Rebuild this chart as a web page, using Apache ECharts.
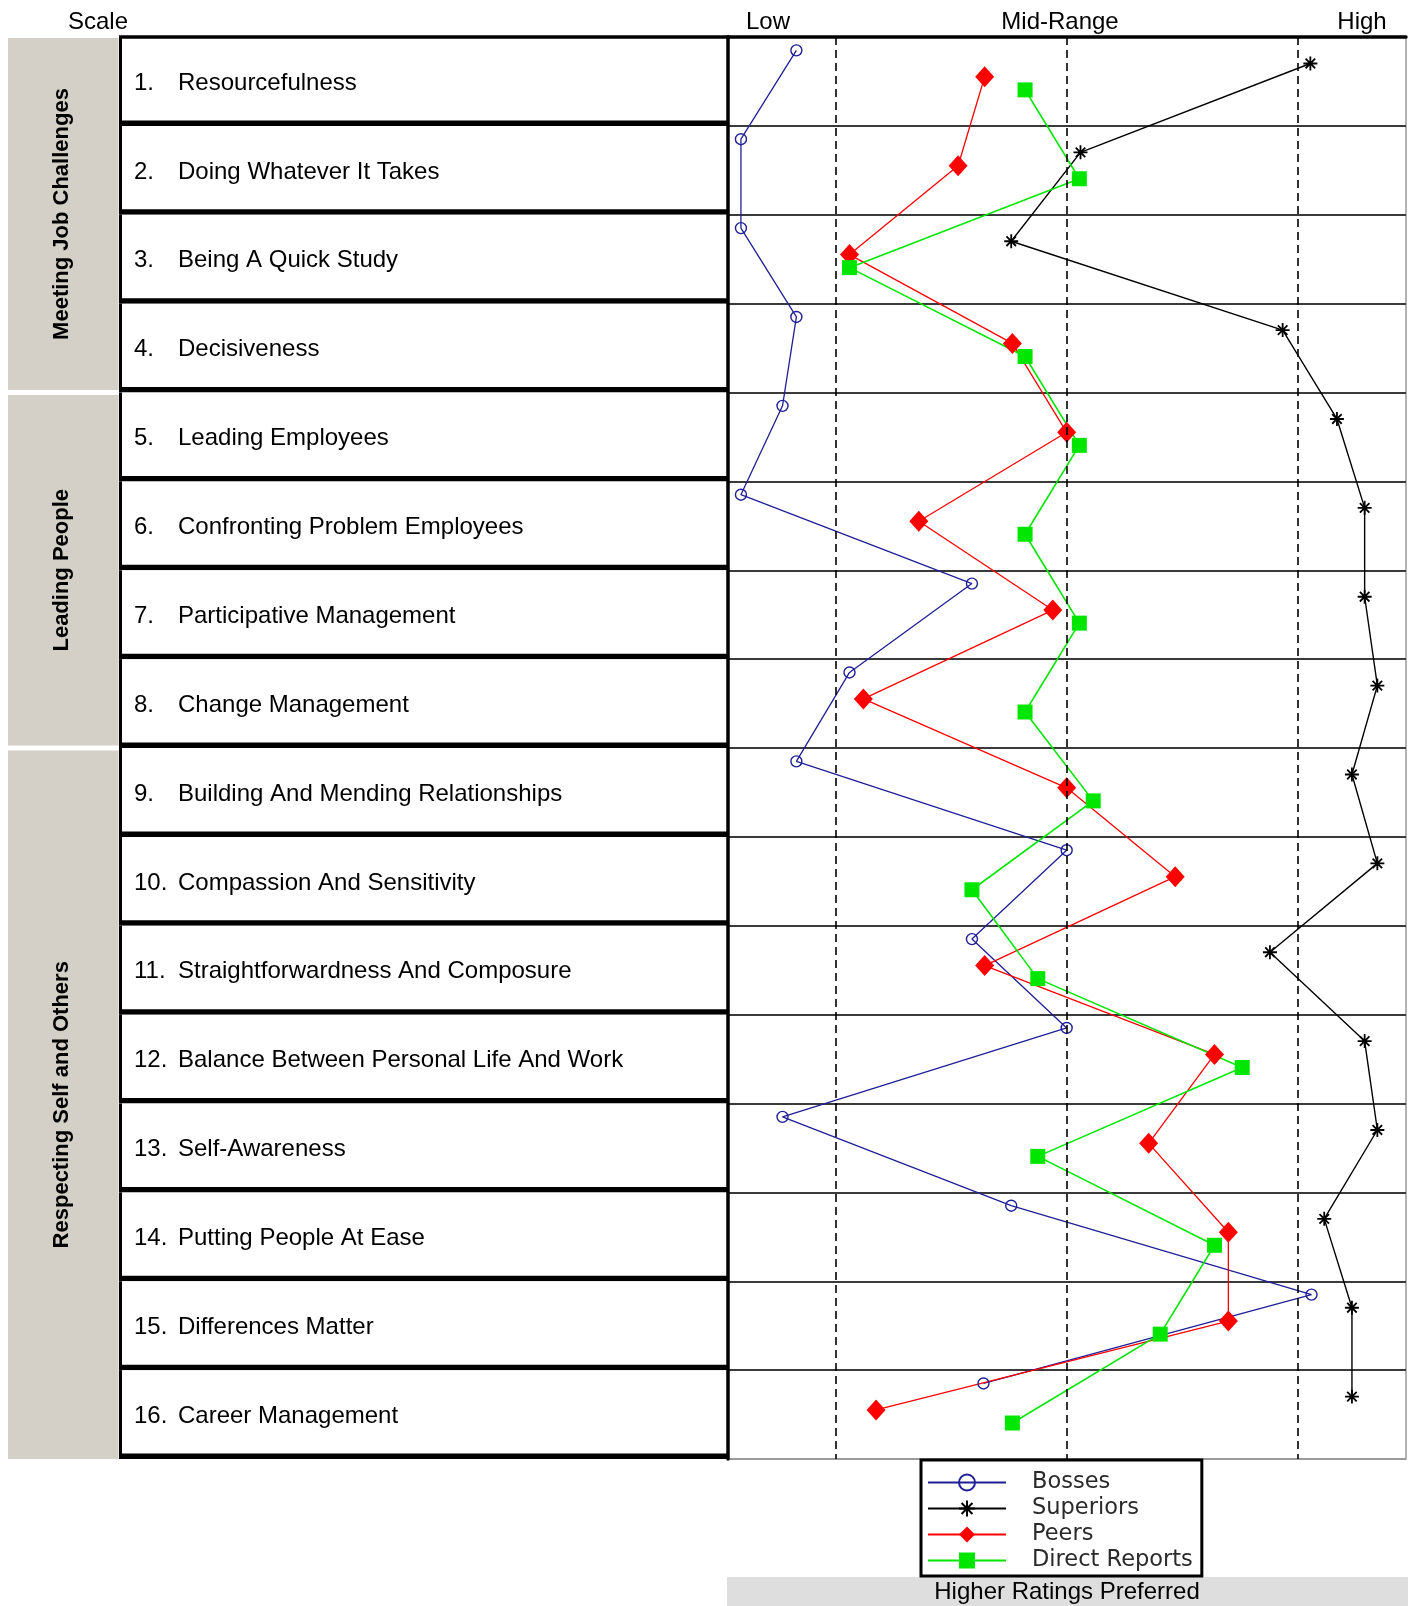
<!DOCTYPE html>
<html>
<head>
<meta charset="utf-8">
<script src="https://cdn.jsdelivr.net/npm/echarts@6/dist/echarts.min.js"></script>
<style>
html,body{margin:0;padding:0;background:#fff;}
#chart{width:1414px;height:1606px;}
</style>
</head>
<body>
<div id="chart"></div>
<script>
// ---- data ----
const categories = ['Resourcefulness', 'Doing Whatever It Takes', 'Being A Quick Study', 'Decisiveness',
  'Leading Employees', 'Confronting Problem Employees', 'Participative Management', 'Change Management',
  'Building And Mending Relationships', 'Compassion And Sensitivity', 'Straightforwardness And Composure',
  'Balance Between Personal Life And Work', 'Self-Awareness', 'Putting People At Ease', 'Differences Matter',
  'Career Management'];
const groupNames = ['Meeting Job Challenges', 'Leading People', 'Respecting Self and Others'];
const groupSizes = [4, 4, 8];
const scaleLabels = ['Low', 'Mid-Range', 'High'];
const referenceLines = [40, 50, 60];
const seriesNames = ['Bosses', 'Superiors', 'Peers', 'Direct Reports'];
const bosses        = [38.3, 35.9, 35.9, 38.3, 37.7, 35.9, 45.9, 40.6, 38.3, 50.0, 45.9, 50.0, 37.7, 47.6, 60.6, 46.4];
const superiors     = [60.55, 50.6, 47.6, 59.35, 61.7, 62.9, 62.9, 63.45, 62.35, 63.45, 58.8, 62.9, 63.45, 61.15, 62.35, 62.35];
const peers         = [46.45, 45.3, 40.6, 47.65, 50.0, 43.6, 49.4, 41.2, 50.0, 54.7, 46.45, 56.4, 53.55, 57.0, 57.0, 41.75];
const directReports = [48.2, 50.55, 40.6, 48.2, 50.55, 48.2, 50.55, 48.2, 51.15, 45.9, 48.75, 57.6, 48.75, 56.4, 54.05, 47.65];

// ---- layout ----
const W = 1414, H = 1606;
const GRID_LEFT = 728, GRID_RIGHT = 1406, GRID_TOP = 37, GRID_BOTTOM = 1459;
const N = categories.length;
const ROW_H = (GRID_BOTTOM - GRID_TOP) / N;
const rowTop = i => GRID_TOP + i * ROW_H;
const FONT = 'Liberation Sans, Arial, sans-serif';
const rowOffsets = [0.15, 0.298, 0.448, 0.595];

const chart = echarts.init(document.getElementById('chart'), null, {renderer: 'canvas', width: W, height: H});

function pts(arr, k) { return arr.map((v, i) => [v, i + rowOffsets[k]]); }

const graphic = [];
// group boxes
let start = 0;
groupNames.forEach((g, gi) => {
  const c = groupSizes[gi];
  const y1 = start === 0 ? GRID_TOP + 1 : rowTop(start) + 2.5;
  const y2 = (start + c === N) ? GRID_BOTTOM : rowTop(start + c) - 2.5;
  graphic.push({type: 'rect', shape: {x: 8, y: y1, width: 110.5, height: y2 - y1}, style: {fill: '#d4d0c8'}, silent: true});
  graphic.push({type: 'text', x: 62, y: (y1 + y2) / 2, rotation: Math.PI / 2,
    style: {text: g, font: 'bold 22px ' + FONT, fill: '#000', align: 'center', verticalAlign: 'middle'}, silent: true});
  start += c;
});
// row label boxes
categories.forEach((name, i) => {
  const t = rowTop(i);
  graphic.push({type: 'rect', shape: {x: 119, y: t, width: 609, height: ROW_H}, style: {fill: '#fff'}, silent: true});
  graphic.push({type: 'rect', shape: {x: 119, y: t, width: 3, height: ROW_H}, style: {fill: '#000'}, silent: true});
  graphic.push({type: 'rect', shape: {x: 119, y: t + ROW_H - 5.5, width: 610, height: 5.5}, style: {fill: '#000'}, silent: true});
  graphic.push({type: 'text', x: 134, y: t + 46, style: {text: (i + 1) + '.', font: '24px ' + FONT, fill: '#000', align: 'left', verticalAlign: 'middle'}, silent: true});
  graphic.push({type: 'text', x: 178, y: t + 46, style: {text: name, font: '24px ' + FONT, fill: '#000', align: 'left', verticalAlign: 'middle'}, silent: true});
});
graphic.push({type: 'rect', shape: {x: 119, y: GRID_TOP - 1.75, width: 610, height: 3.5}, style: {fill: '#000'}, silent: true});
// header
graphic.push({type: 'text', x: 98, y: 22, style: {text: 'Scale', font: '24px ' + FONT, fill: '#000', align: 'center', verticalAlign: 'middle'}, silent: true});
const headerX = [768, 1060, 1362];
scaleLabels.forEach((s, i) => {
  graphic.push({type: 'text', x: headerX[i], y: 22, style: {text: s, font: '24px ' + FONT, fill: '#000', align: 'center', verticalAlign: 'middle'}, silent: true});
});
// bottom band
graphic.push({type: 'rect', shape: {x: 727, y: 1577, width: 681, height: 29}, style: {fill: '#dedede'}, silent: true});
graphic.push({type: 'text', x: 1067, y: 1592, style: {text: 'Higher Ratings Preferred', font: '24px ' + FONT, fill: '#000', align: 'center', verticalAlign: 'middle'}, silent: true});

const splitColors = [];
for (let i = 0; i <= N; i++) splitColors.push(i === N ? '#9a9a9a' : '#3a3a3a');

const asterisk = 'path://M5,0L5,10M0,5L10,5M1.6,1.6L8.4,8.4M1.6,8.4L8.4,1.6';

const option = {
  animation: false,
  backgroundColor: '#fff',
  grid: {left: GRID_LEFT, top: GRID_TOP, width: GRID_RIGHT - GRID_LEFT, height: GRID_BOTTOM - GRID_TOP,
    show: true, borderColor: '#9a9a9a', borderWidth: 1.5, backgroundColor: '#fff'},
  xAxis: {type: 'value', min: 35.34, max: 64.69, position: 'top',
    axisLine: {show: true, onZero: false, lineStyle: {color: '#000', width: 3.5}},
    axisTick: {show: false}, axisLabel: {show: false}, splitLine: {show: false}},
  yAxis: {type: 'value', min: 0, max: N, interval: 1, inverse: true,
    axisLine: {show: true, onZero: false, lineStyle: {color: '#000', width: 3.5}},
    axisTick: {show: false}, axisLabel: {show: false},
    splitLine: {show: true, lineStyle: {color: splitColors, width: 1.8}}},
  legend: {
    data: seriesNames, orient: 'vertical', left: 921, top: 1460,
    itemWidth: 78, itemHeight: 20, itemGap: 3,
    padding: [11, 9, 4, 6],
    borderColor: '#000', borderWidth: 3, backgroundColor: '#fff',
    textStyle: {fontFamily: 'DejaVu Sans', fontSize: 22.5, color: '#2a2a2a', padding: [0, 0, 0, 21]}
  },
  graphic: graphic,
  series: [
    {type: 'line', name: '_ref', data: [], silent: true,
      markLine: {silent: true, symbol: 'none', label: {show: false},
        lineStyle: {color: '#000', type: [8, 5], width: 1.6},
        data: referenceLines.map(v => ({xAxis: v}))}},
    {type: 'line', name: seriesNames[0], data: pts(bosses, 0), symbol: 'circle', symbolSize: 11,
      lineStyle: {color: '#1f1f96', width: 1.3},
      itemStyle: {color: 'rgba(255,255,255,0)', borderColor: '#1f1f96', borderWidth: 1.4}},
    {type: 'line', name: seriesNames[1], data: pts(superiors, 1), symbol: asterisk, symbolSize: 14,
      lineStyle: {color: '#000', width: 1.4},
      itemStyle: {color: '#000', borderColor: '#000', borderWidth: 1.8}},
    {type: 'line', name: seriesNames[2], data: pts(peers, 2), symbol: 'diamond', symbolSize: [19, 21],
      lineStyle: {color: '#ff0000', width: 1.3},
      itemStyle: {color: '#ff0000', borderWidth: 0}},
    {type: 'line', name: seriesNames[3], data: pts(directReports, 3), symbol: 'rect', symbolSize: 15,
      lineStyle: {color: '#00e600', width: 1.6},
      itemStyle: {color: '#00e600', borderWidth: 0}}
  ]
};
chart.setOption(option);
</script>
</body>
</html>
